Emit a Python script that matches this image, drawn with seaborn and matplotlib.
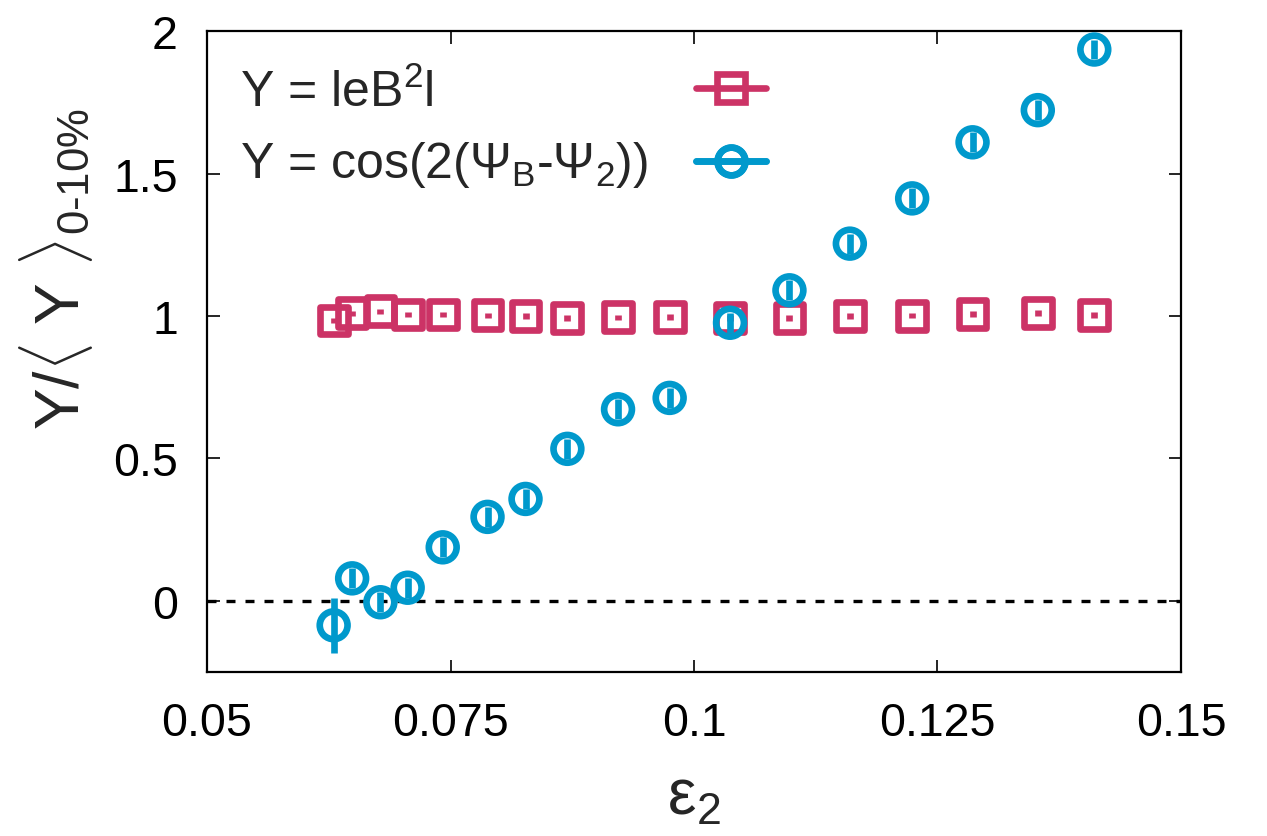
import numpy as np
import pandas as pd
import matplotlib
matplotlib.use("Agg")
import matplotlib.pyplot as plt
from matplotlib.lines import Line2D
import seaborn as sns

# eccentricity bins
eps2 = [0.0630, 0.0649, 0.0678, 0.0706, 0.0742, 0.0788, 0.0827, 0.0870, 0.0922,
        0.0975, 0.1037, 0.1098, 0.1160, 0.1224, 0.1286, 0.1353, 0.1411]

# |eB^2| normalised to the 0-10% value
ratio_b2 = [0.984, 1.009, 1.016, 1.005, 1.005, 1.002, 0.999, 0.992, 0.995,
            0.997, 0.993, 0.993, 0.999, 1.001, 1.007, 1.010, 1.004]
err_b2 = [0.010] * len(eps2)

# cos(2(Psi_B - Psi_2)) normalised to the 0-10% value
ratio_cos = [-0.087, 0.078, -0.006, 0.045, 0.187, 0.294, 0.357, 0.533, 0.672,
             0.712, 0.976, 1.090, 1.254, 1.413, 1.610, 1.723, 1.936]
err_cos = [0.097, 0.035, 0.035, 0.035, 0.035, 0.035, 0.035, 0.035, 0.035,
           0.035, 0.035, 0.035, 0.035, 0.035, 0.035, 0.035, 0.035]

labels = ["Y = leB$^{2}$l", "Y = cos(2(Ψ$_{\\mathregular{B}}$-Ψ$_{\\mathregular{2}}$))"]
xticks = [0.05, 0.075, 0.1, 0.125, 0.15]
xticklabels = ["0.05", "0.075", "0.1", "0.125", "0.15"]
yticks = [0, 0.5, 1, 1.5, 2]
yticklabels = ["0", "0.5", "1", "1.5", "2"]

c_b2 = "#CC3366"
c_cos = "#0099CC"

sns.set_theme(style="ticks")
plt.rcParams["font.family"] = ["Liberation Sans", "DejaVu Sans"]
plt.rcParams["mathtext.fontset"] = "custom"
plt.rcParams["mathtext.rm"] = "Liberation Sans"
plt.rcParams["mathtext.it"] = "Liberation Sans"
plt.rcParams["mathtext.bf"] = "Liberation Sans:bold"

df = pd.DataFrame({"eps2": eps2, "b2": ratio_b2, "eb2": err_b2,
                   "cos": ratio_cos, "ecos": err_cos})

fig = plt.figure(figsize=(12.67, 8.37), dpi=100)
ax = fig.add_axes([0.1634, 0.1963, 0.7687, 0.7651])

ax.axhline(0, color="black", lw=2.4, dashes=(2.7, 3.0), zorder=1)

mew = 4.8
ms = 20

ax.errorbar(df["eps2"], df["b2"], yerr=df["eb2"], fmt="none", ecolor=c_b2,
            elinewidth=mew, capsize=0, zorder=2)
sns.scatterplot(data=df, x="eps2", y="b2", marker="s", s=ms ** 2,
                facecolor="none", edgecolor=c_b2, linewidth=mew,
                legend=False, ax=ax, zorder=3)

ax.errorbar(df["eps2"], df["cos"], yerr=df["ecos"], fmt="none", ecolor=c_cos,
            elinewidth=mew, capsize=0, zorder=4)
sns.scatterplot(data=df, x="eps2", y="cos", marker="o", s=ms ** 2,
                facecolor="none", edgecolor=c_cos, linewidth=mew,
                legend=False, ax=ax, zorder=5)

ax.set_xlim(0.05, 0.15)
ax.set_ylim(-0.25, 2)
ax.set_xticks(xticks)
ax.set_xticklabels(xticklabels)
ax.set_yticks(yticks)
ax.set_yticklabels(yticklabels)
ax.tick_params(direction="in", length=9, width=1.2, labelsize=33.5, pad=21,
               top=True, right=True, colors="black")
for sp in ax.spines.values():
    sp.set_visible(True)
    sp.set_linewidth(1.6)
    sp.set_color("black")

ax.set_xlabel("ε$_{\\mathregular{2}}$", fontsize=46, labelpad=16)
ax.set_ylabel("Y/$\\langle$ Y $\\rangle_{\\text{0-10%}}$", fontsize=45)
ax.yaxis.set_label_coords(-0.115, 0.63)

# key: text block on the left, sample glyphs in a column to the right
handles = [
    Line2D([], [], color=c_b2, lw=mew, marker="s", markersize=ms,
           markerfacecolor="none", markeredgecolor=c_b2, markeredgewidth=mew),
    Line2D([], [], color=c_cos, lw=mew, marker="o", markersize=ms,
           markerfacecolor="none", markeredgecolor=c_cos, markeredgewidth=mew),
]
key_text_y = [0.8834, 0.7722]
key_mark_y = [0.9045, 0.7910]
for h, lab, ty, my in zip(handles, labels, key_text_y, key_mark_y):
    ax.text(0.034, ty, lab, transform=ax.transAxes, fontsize=36,
            ha="left", va="baseline")
    leg = ax.legend([h], [""], loc="center", bbox_to_anchor=(0.5375, my),
                    frameon=False, fontsize=36, handlelength=1.4,
                    handletextpad=0, borderpad=0, borderaxespad=0)
    ax.add_artist(leg)

fig.savefig("out.png", dpi=100)
